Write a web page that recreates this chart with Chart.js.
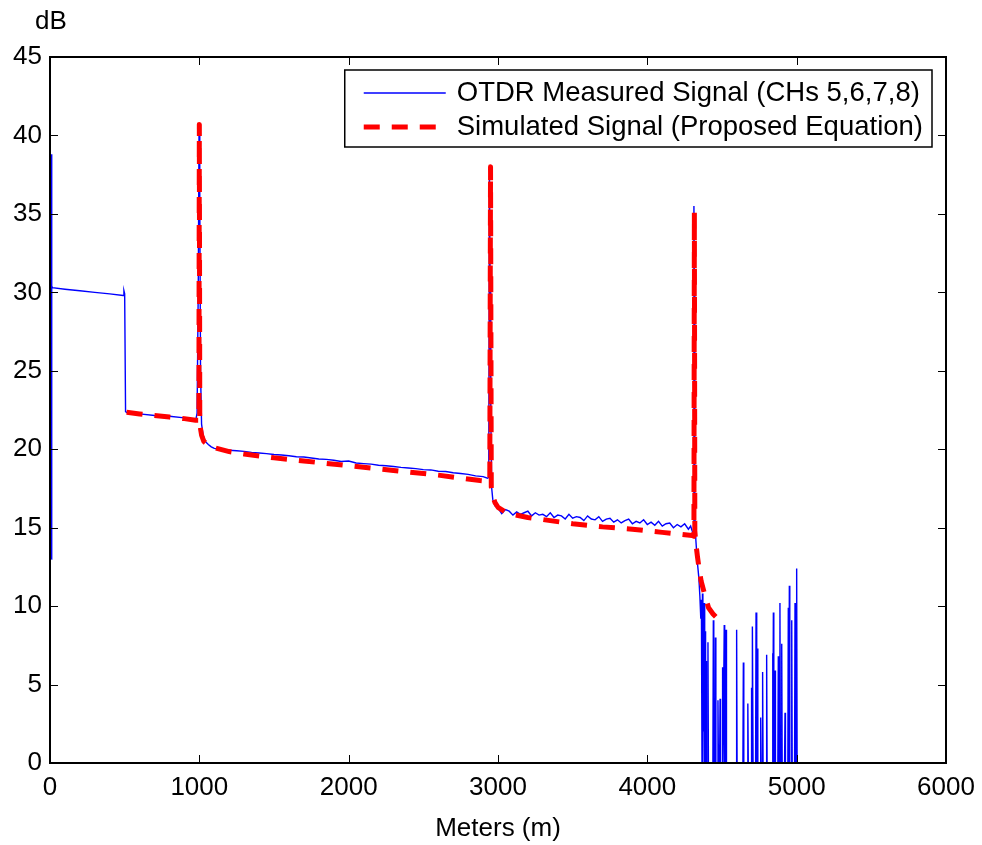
<!DOCTYPE html>
<html>
<head>
<meta charset="utf-8">
<script src="https://cdn.jsdelivr.net/npm/chart.js@4.4.0/dist/chart.umd.min.js"></script>
<style>
html,body{margin:0;padding:0;background:#fff;}
#wrap{width:982px;height:845px;position:relative;}
</style>
</head>
<body>
<div id="wrap"><canvas id="c" width="982" height="845"></canvas></div>
<script>
// ---------------- DATA ----------------
const xAxisTitle = 'Meters (m)';
const yAxisUnit = 'dB';
const xTicks = [0, 1000, 2000, 3000, 4000, 5000, 6000];
const yTicks = [0, 5, 10, 15, 20, 25, 30, 35, 40, 45];

const measuredLabel = 'OTDR Measured Signal (CHs 5,6,7,8)';
const measuredDistance = [
  8, 10, 13, 16, 100, 200, 300, 400, 490, 495, 500, 506, 520, 600, 700, 800, 900, 960, 975, 985, 993, 998, 1003, 1008, 1015, 1025, 1040, 1060, 1080,
  1100, 1150, 1200, 1250, 1300, 1350, 1400, 1450, 1500, 1550, 1600, 1650, 1700, 1750, 1800, 1850, 1900, 1950, 2000, 2050, 2100, 2150, 2200, 2250,
  2300, 2350, 2400, 2450, 2500, 2550, 2600, 2650, 2700, 2750, 2800, 2850, 2900, 2930, 2938,
  2943, 2948, 2952, 2958, 2965, 2980,
  3000, 3025, 3050, 3075, 3100, 3125, 3150, 3175, 3200, 3225, 3250, 3275, 3300, 3325, 3350, 3375, 3400, 3425, 3450, 3475, 3500, 3525, 3550, 3575,
  3600, 3625, 3650, 3675, 3700, 3725, 3750, 3775, 3800, 3825, 3850, 3875, 3900, 3925, 3950, 3975, 4000, 4025, 4050, 4075, 4100, 4125, 4150, 4175,
  4200, 4225, 4250, 4275, 4290, 4300, 4308,
  4312, 4315, 4318, 4325, 4335, 4345, 4352, 4358, 4362, 4366, 4369, 4372, 4375, 4378, 4381, 4384, 4387, 4390, 4393, 4396,
  4403, 4406, 4409, 4439, 4442, 4445, 4453, 4456, 4459, 4470, 4473, 4476, 4484, 4487, 4490, 4501, 4504, 4507, 4512, 4515, 4518,
  4524, 4527, 4530, 4595, 4598, 4601, 4640, 4643, 4646, 4670, 4673, 4676, 4695, 4698, 4701, 4702, 4705, 4708, 4725, 4728, 4731,
  4734, 4737, 4740, 4756, 4759, 4762, 4769, 4772, 4775, 4796, 4799, 4802, 4836, 4839, 4841, 4844, 4847, 4852, 4855, 4858,
  4874, 4877, 4880, 4885, 4888, 4891, 4897, 4900, 4903, 4919, 4922, 4925, 4941, 4944, 4947, 4948, 4951, 4954, 4964, 4967, 4970,
  4986, 4989, 4992, 4997, 5000, 5003
];
const measuredDb = [
  13.0, 38.8, 30.4, 30.3, 30.2, 30.1, 30.0, 29.9, 29.8, 30.1, 29.9, 22.4, 22.3, 22.25, 22.15, 22.1, 22.0, 21.9, 21.8, 22.3, 30.5, 40.3, 36.0, 25.0, 21.6, 20.9, 20.5, 20.3, 20.15,
  20.05, 20.00, 19.93, 19.90, 19.86, 19.80, 19.76, 19.72, 19.66, 19.63, 19.58, 19.52, 19.50, 19.44, 19.38, 19.35, 19.30, 19.22, 19.25, 19.12, 19.08, 19.05, 18.98, 18.95,
  18.90, 18.84, 18.80, 18.76, 18.70, 18.68, 18.60, 18.58, 18.50, 18.45, 18.40, 18.30, 18.25, 18.15, 18.20,
  37.4, 30.0, 22.0, 17.5, 16.8, 16.4,
  16.25, 15.90, 16.15, 16.05, 15.80, 16.00, 15.85, 15.95, 16.05, 15.75, 15.95, 15.80, 15.85, 15.70, 15.95, 15.65, 15.80, 15.75, 15.55, 15.85, 15.60, 15.70, 15.65, 15.45,
  15.75, 15.55, 15.50, 15.70, 15.40, 15.55, 15.60, 15.35, 15.50, 15.30, 15.45, 15.55, 15.25, 15.40, 15.30, 15.50, 15.20, 15.35, 15.15, 15.40, 15.10, 15.25, 15.30, 15.00,
  15.20, 15.05, 15.25, 14.90, 15.10, 14.80, 14.60,
  35.5, 30.0, 16.0, 14.2, 12.8, 11.8, 10.6, 9.2, 10.4, 0, 10.8, 0, 9.6, 2.0, 10.2, 0, 8.4, 0, 6.5, 0,
  0, 7.7, 0, 0, 9.1, 0, 0, 8.0, 0, 0, 4.0, 0, 0, 4.1, 0, 0, 6.1, 0, 0, 8.8, 0,
  0, 8.5, 0, 0, 8.5, 0, 0, 6.4, 0, 0, 3.8, 0, 0, 4.8, 0, 0, 8.7, 0, 0, 9.6, 0,
  0, 7.3, 0, 0, 2.9, 0, 0, 5.8, 0, 0, 6.9, 0, 0, 7.0, 0, 9.6, 0, 0, 5.9, 0,
  0, 6.8, 0, 0, 10.2, 0, 0, 7.6, 0, 0, 3.2, 0, 0, 9.9, 0, 0, 11.3, 0, 0, 9.1, 0,
  0, 10.2, 0, 0, 12.4, 0
];

const simulatedLabel = 'Simulated Signal (Proposed Equation)';
const simulatedDistance = [
  513, 600, 700, 800, 900, 975, 997, 1000, 1003, 1015, 1030, 1060, 1100, 1200, 1300, 1500, 1700, 2000, 2300, 2600, 2880, 2945,
  2950, 2955, 2965, 2980, 3000, 3050, 3100, 3200, 3350, 3500, 3700, 3900, 4100, 4300, 4312,
  4315, 4318, 4325, 4335, 4345, 4360, 4385, 4410, 4440, 4475
];
const simulatedDb = [
  22.35, 22.25, 22.15, 22.05, 21.95, 21.85, 21.85, 40.7, 21.6, 20.9, 20.5, 20.25, 20.1, 19.85, 19.7, 19.45, 19.25, 18.95, 18.65, 18.35, 18.0, 17.95,
  38.0, 17.6, 17.0, 16.6, 16.3, 16.0, 15.85, 15.65, 15.45, 15.25, 15.05, 14.9, 14.7, 14.5, 14.45,
  35.1, 14.8, 14.0, 13.2, 12.5, 11.6, 10.7, 9.9, 9.5, 9.15
];

// ---------------- CHART ----------------
const FONT = 'Liberation Sans, Arial, Helvetica, sans-serif';
const toPoints = (xs, ys) => xs.map((v, i) => ({ x: v, y: ys[i] }));

const matlabFrame = {
  id: 'matlabFrame',
  afterDatasetsDraw(chart) {
    const { ctx, chartArea: a, scales } = chart;
    const xs = scales.x, ys = scales.y;
    ctx.save();
    ctx.strokeStyle = '#000';
    ctx.lineWidth = 1;
    const tl = 8;
    ctx.beginPath();
    xs.ticks.forEach(t => {
      const p = Math.round(xs.getPixelForValue(t.value)) + 0.5;
      ctx.moveTo(p, a.bottom); ctx.lineTo(p, a.bottom - tl);
      ctx.moveTo(p, a.top); ctx.lineTo(p, a.top + tl);
    });
    ys.ticks.forEach(t => {
      const p = Math.round(ys.getPixelForValue(t.value)) + 0.5;
      ctx.moveTo(a.left, p); ctx.lineTo(a.left + tl, p);
      ctx.moveTo(a.right, p); ctx.lineTo(a.right - tl, p);
    });
    ctx.stroke();
    ctx.lineWidth = 2;
    ctx.strokeRect(a.left, a.top, a.right - a.left, a.bottom - a.top);

    ctx.fillStyle = '#000';
    ctx.font = '26px ' + FONT;
    ctx.textAlign = 'center';
    ctx.textBaseline = 'middle';
    ctx.fillText(yAxisUnit, a.left + 1, 22);

    // legend
    const ds = chart.data.datasets;
    ctx.font = '27.5px ' + FONT;
    const maxW = Math.max(...ds.map(d => ctx.measureText(d.label).width));
    const boxRight = a.right - 14;
    const boxTop = a.top + 13;
    const boxH = 77;
    const textOff = 112;
    const boxW = textOff + maxW + 9;
    const boxLeft = boxRight - boxW;
    ctx.fillStyle = '#fff';
    ctx.fillRect(boxLeft, boxTop, boxW, boxH);
    ctx.lineWidth = 1.5;
    ctx.strokeStyle = '#000';
    ctx.strokeRect(boxLeft, boxTop, boxW, boxH);
    const rows = [boxTop + 23, boxTop + 57];
    ds.forEach((d, i) => {
      ctx.save();
      ctx.strokeStyle = d.borderColor;
      ctx.lineWidth = d.borderWidth;
      ctx.setLineDash(d.borderDash || []);
      ctx.beginPath();
      ctx.moveTo(boxLeft + 19, rows[i]);
      ctx.lineTo(boxLeft + 101, rows[i]);
      ctx.stroke();
      ctx.restore();
      ctx.fillStyle = '#000';
      ctx.textAlign = 'left';
      ctx.textBaseline = 'middle';
      ctx.fillText(d.label, boxLeft + textOff, rows[i]);
    });
    ctx.restore();
  }
};

new Chart(document.getElementById('c'), {
  type: 'scatter',
  data: {
    datasets: [
      {
        label: measuredLabel,
        data: toPoints(measuredDistance, measuredDb),
        showLine: true,
        borderColor: '#0000ff',
        backgroundColor: '#0000ff',
        borderWidth: 1.4,
        pointRadius: 0,
        tension: 0,
        order: 2
      },
      {
        label: simulatedLabel,
        data: toPoints(simulatedDistance, simulatedDb),
        showLine: true,
        borderColor: '#ff0000',
        backgroundColor: '#ff0000',
        borderWidth: 5,
        borderDash: [16, 12],
        borderJoinStyle: 'round',
        pointRadius: 0,
        tension: 0,
        order: 1
      }
    ]
  },
  options: {
    responsive: false,
    animation: false,
    devicePixelRatio: 1,
    layout: { padding: { left: 0, right: 36, top: 57, bottom: 0 } },
    plugins: { legend: { display: false }, tooltip: { enabled: false } },
    scales: {
      x: {
        type: 'linear', min: 0, max: 6000,
        afterBuildTicks: s => { s.ticks = xTicks.map(v => ({ value: v })); },
        afterFit: s => { s.height = 82; s.paddingLeft = 0; s.paddingRight = 0; },
        grid: { display: false, drawTicks: false },
        border: { display: false },
        ticks: { color: '#000', font: { family: FONT, size: 26 }, padding: 9, maxRotation: 0, autoSkip: false, callback: v => String(v) },
        title: { display: true, text: xAxisTitle, color: '#000', font: { family: FONT, size: 26 }, padding: { top: 0, bottom: 1 } }
      },
      y: {
        type: 'linear', min: 0, max: 45,
        afterBuildTicks: s => { s.ticks = yTicks.map(v => ({ value: v })); },
        afterFit: s => { s.width = 50; s.paddingTop = 0; s.paddingBottom = 0; },
        grid: { display: false, drawTicks: false },
        border: { display: false },
        ticks: { color: '#000', font: { family: FONT, size: 26 }, padding: 8, autoSkip: false, callback: v => String(v) }
      }
    }
  },
  plugins: [matlabFrame]
});
</script>
</body>
</html>
